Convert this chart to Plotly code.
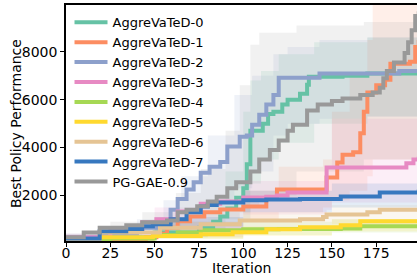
import plotly.graph_objects as go

names = ["AggreVaTeD-0", "AggreVaTeD-1", "AggreVaTeD-2", "AggreVaTeD-3",
         "AggreVaTeD-4", "AggreVaTeD-5", "AggreVaTeD-6", "AggreVaTeD-7", "PG-GAE-0.9"]

# mean curves (iteration knots, value)
a0_x = [0, 25, 50, 75, 83, 87, 91, 96, 100, 102, 104, 111, 114, 117, 122, 125, 132, 136, 137, 156, 170, 199]
a0_y = [120, 250, 450, 650, 900, 1125, 1450, 1900, 2300, 3300, 4700, 5000, 5400, 5500, 5800, 6000, 6250, 6625, 6958, 7000, 7100, 7167]

a1_x = [0, 25, 45, 51, 57, 63, 70, 78, 87, 100, 113, 119, 143, 147, 153, 156, 162, 166, 168, 170, 175, 180, 183, 194, 197, 199]
a1_y = [100, 180, 250, 400, 650, 917, 1125, 1300, 1417, 1542, 1900, 2250, 2250, 2750, 3375, 3700, 3800, 4600, 5500, 6300, 6600, 6833, 7500, 7583, 8200, 8500]

a2_x = [0, 20, 40, 55, 59, 63, 68, 72, 76, 81, 87, 91, 98, 102, 105, 109, 113, 117, 120, 143, 188, 199]
a2_y = [250, 400, 650, 900, 1400, 1850, 2250, 2550, 2950, 3200, 3400, 4050, 4450, 4500, 4950, 5375, 5800, 6200, 6917, 7100, 7200, 7250]

a3_x = [0, 25, 43, 51, 63, 76, 87, 100, 113, 119, 125, 147, 188, 192, 196, 199]
a3_y = [250, 600, 875, 1000, 1333, 1650, 1750, 1917, 1950, 2000, 2125, 3167, 3167, 3350, 3500, 3625]

a4_x = [0, 25, 50, 63, 76, 100, 120, 155, 166, 199]
a4_y = [100, 200, 350, 450, 550, 583, 600, 620, 708, 792]

a5_x = [0, 19, 49, 76, 94, 113, 132, 155, 166, 199]
a5_y = [100, 250, 300, 375, 458, 583, 667, 750, 917, 1000]

a6_x = [0, 19, 53, 76, 98, 132, 145, 147, 170, 177, 199]
a6_y = [170, 450, 650, 800, 950, 1000, 1100, 1200, 1300, 1400, 1420]

a7_x = [0, 19, 34, 43, 49, 59, 68, 76, 80, 85, 100, 113, 132, 155, 177, 199]
a7_y = [200, 500, 600, 708, 800, 1000, 1300, 1542, 1600, 1700, 1800, 1833, 1850, 1958, 2125, 2250]

pg_x = [0, 10, 19, 34, 43, 57, 63, 68, 74, 80, 85, 91, 96, 104, 109, 115, 120, 125, 128, 136, 142, 150, 156, 166, 173, 177, 179, 181, 185, 191, 193, 195, 197, 199]
pg_y = [250, 450, 650, 750, 875, 950, 1300, 1400, 1550, 1750, 1950, 2300, 2550, 3000, 3500, 3900, 4300, 4700, 4958, 5550, 5800, 5950, 6050, 6200, 6300, 6500, 6900, 7200, 7550, 7950, 8400, 8900, 9500, 9700]

# shaded bands (iteration knots, lower, upper)
b0_x = [0, 50, 80, 90, 100, 104, 110, 120, 140, 170, 199]
b0_lo = [80, 250, 450, 700, 1000, 2500, 3500, 4200, 5000, 5300, 5500]
b0_up = [300, 900, 1800, 3000, 5500, 6800, 7200, 7900, 8400, 8600, 8700]

b1_x = [0, 50, 100, 120, 145, 150, 160, 170, 173, 199]
b1_lo = [80, 250, 900, 1300, 1500, 1800, 2200, 2800, 3500, 4500]
b1_up = [250, 900, 2200, 3200, 3500, 5500, 7000, 8500, 10500, 11000]

b2_x = [0, 40, 55, 65, 80, 95, 105, 117, 125, 143, 170, 199]
b2_lo = [150, 350, 500, 900, 1500, 2300, 3000, 4500, 5000, 5200, 5300, 5400]
b2_up = [400, 1000, 1800, 2800, 4500, 6200, 7000, 7900, 8200, 8500, 8600, 8700]

b3_x = [0, 50, 100, 147, 150, 199]
b3_lo = [120, 600, 1200, 1400, 1700, 1900]
b3_up = [400, 1500, 2600, 3200, 5200, 5800]

b4_x = [0, 50, 100, 150, 199]
b4_lo = [80, 200, 350, 450, 550]
b4_up = [160, 600, 900, 1000, 1100]

b5_x = [0, 50, 100, 150, 199]
b5_lo = [80, 180, 300, 500, 700]
b5_up = [150, 450, 700, 1000, 1300]

b6_x = [0, 50, 100, 150, 199]
b6_lo = [100, 350, 600, 800, 1000]
b6_up = [300, 900, 1300, 1600, 1800]

b7_x = [0, 50, 100, 150, 199]
b7_lo = [120, 550, 1300, 1500, 1700]
b7_up = [300, 1100, 2200, 2500, 2700]

bp_x = [0, 25, 43, 62, 76, 90, 98, 104, 109, 130, 168, 199]
bp_lo = [120, 300, 450, 600, 800, 1000, 1300, 1600, 2000, 3000, 3500, 4000]
bp_up = [400, 900, 1300, 2100, 3100, 4700, 6600, 8300, 8800, 9100, 9250, 9400]

x_ticks = [0, 25, 50, 75, 100, 125, 150, 175]
y_ticks = [2000, 4000, 6000, 8000]

colors = ["#66c2a5", "#fc8d62", "#8da0cb", "#e78ac3", "#a6d854",
          "#ffd92f", "#e5c494", "#3778bf", "#999999"]

means = [(a0_x, a0_y), (a1_x, a1_y), (a2_x, a2_y), (a3_x, a3_y), (a4_x, a4_y),
         (a5_x, a5_y), (a6_x, a6_y), (a7_x, a7_y), (pg_x, pg_y)]
bands = [(b0_x, b0_lo, b0_up), (b1_x, b1_lo, b1_up), (b2_x, b2_lo, b2_up),
         (b3_x, b3_lo, b3_up), (b4_x, b4_lo, b4_up), (b5_x, b5_lo, b5_up),
         (b6_x, b6_lo, b6_up), (b7_x, b7_lo, b7_up), (bp_x, bp_lo, bp_up)]


def rgba(h, a):
    h = h.lstrip("#")
    return "rgba(%d,%d,%d,%s)" % (int(h[0:2], 16), int(h[2:4], 16), int(h[4:6], 16), a)


fig = go.Figure()
for (bx, lo, up), c in zip(bands, colors):
    fig.add_trace(go.Scatter(x=bx, y=lo, mode="lines", line=dict(width=0, shape="hv"),
                             showlegend=False, hoverinfo="skip"))
    fig.add_trace(go.Scatter(x=bx, y=up, mode="lines", line=dict(width=0, shape="hv"),
                             fill="tonexty", fillcolor=rgba(c, 0.14),
                             showlegend=False, hoverinfo="skip"))

for (mx, my), c, n in zip(means, colors, names):
    fig.add_trace(go.Scatter(x=mx, y=my, mode="lines", name=n,
                             line=dict(color=c, width=4, shape="hv")))

font = "DejaVu Sans"
fig.update_layout(
    width=417, height=277,
    margin=dict(l=66, r=0, t=5, b=36),
    paper_bgcolor="white", plot_bgcolor="white",
    font=dict(family=font, size=14, color="black"),
    legend=dict(x=0.01, y=0.99, xanchor="left", yanchor="top", traceorder="normal",
                bgcolor="rgba(0,0,0,0)", font=dict(size=13), tracegroupgap=0,
                itemwidth=33),
    xaxis=dict(range=[0, 198], tickvals=x_ticks, showgrid=False, zeroline=False,
               showline=True, linecolor="black", linewidth=1.5, mirror=True,
               ticks="outside", ticklen=4, tickwidth=1.2, tickcolor="black",
               ticklabelstandoff=-6, automargin=False),
    yaxis=dict(range=[96, 9958], tickvals=y_ticks, showgrid=False, zeroline=False,
               showline=True, linecolor="black", linewidth=1.5,
               ticks="outside", ticklen=4, tickwidth=1.2, tickcolor="black",
               automargin=False),
    annotations=[
        dict(text="Iteration", xref="paper", yref="paper", x=0.5, y=-0.114,
             xanchor="center", yanchor="middle", showarrow=False, font=dict(size=14)),
        dict(text="Best Policy Performance", xref="paper", yref="paper", x=-0.1425, y=0.5,
             xanchor="center", yanchor="middle", textangle=-90, showarrow=False,
             font=dict(size=14)),
    ],
)

fig.write_html("out.html", config={"displayModeBar": False},
               post_script="document.body.style.margin='0px';")
